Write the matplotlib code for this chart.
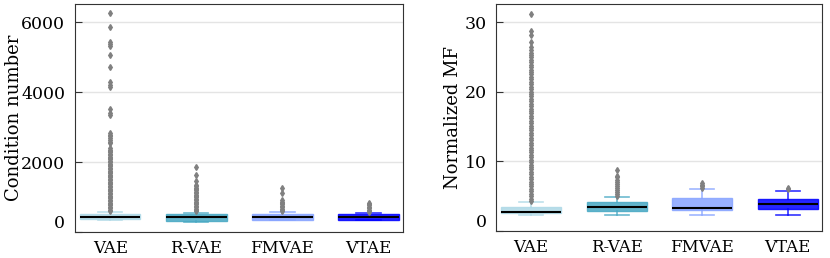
import matplotlib
matplotlib.use('Agg')
import matplotlib.pyplot as plt
import matplotlib.transforms as mtransforms

plt.rcParams['font.family'] = 'DejaVu Serif'

models = ['VAE', 'R-VAE', 'FMVAE', 'VTAE']
colors = ['#add8e6', '#48a8c3', '#87a4ff', '#0000ff']

# condition number box stats
cond_whislo = [340, 300, 330, 330]
cond_q1 = [375, 320, 350, 350]
cond_med = [432, 421, 421, 421]
cond_q3 = [517, 517, 517, 525]
cond_whishi = [563, 546, 560, 540]
cond_fliers_vae = [600, 640, 680, 720, 760, 800, 840, 880, 920, 960, 1000, 1040,
                   1080, 1120, 1160, 1200, 1240, 1280, 1320, 1360, 1400, 1440, 1480,
                   1520, 1560, 1600, 1640, 1680, 1720, 1760, 1800, 1840, 1880, 1920,
                   1960, 2000, 2040, 2080, 2120, 2160, 2200, 2240, 2280, 2320, 2360,
                   2400, 2540, 2580, 2640, 2690, 2740, 2790, 2820, 3340, 3400, 3530,
                   4150, 4210, 4290, 4730, 5070, 5310, 5370, 5430, 5860, 6260]
cond_fliers_rvae = [590, 630, 670, 710, 750, 790, 830, 870, 910, 950, 990, 1030,
                    1070, 1110, 1150, 1190, 1230, 1270, 1310, 1350, 1470, 1630, 1850]
cond_fliers_fmvae = [590, 630, 670, 710, 750, 790, 830, 870, 910, 1130, 1250]
cond_fliers_vtae = [560, 600, 640, 680, 720, 760, 800, 830]

# normalized MF box stats
mf_whislo = [2.3, 2.24, 2.25, 2.34]
mf_q1 = [2.6, 2.81, 2.95, 3.1]
mf_med = [2.8, 3.52, 3.34, 3.81]
mf_q3 = [3.5, 4.23, 4.72, 4.62]
mf_whishi = [4.1, 4.94, 6.0, 5.8]
mf_fliers_vae = [4.3, 4.65, 5.0, 5.35, 5.7, 6.05, 6.4, 6.75, 7.1, 7.45, 7.8, 8.15,
                 8.5, 8.85, 9.2, 9.55, 9.9, 10.25, 10.6, 10.95, 11.3, 11.65, 12.0,
                 12.35, 12.7, 13.05, 13.4, 13.75, 14.1, 14.45, 14.8, 15.15, 15.5,
                 15.85, 16.2, 16.55, 16.9, 17.25, 17.6, 17.95, 18.3, 18.65, 19.0,
                 19.35, 19.7, 20.05, 20.4, 20.75, 21.1, 21.45, 21.8, 22.15, 22.5,
                 22.85, 23.2, 23.55, 23.9, 24.25, 24.6, 24.95, 25.3, 25.65, 26.0,
                 26.5, 27.2, 28.2, 28.7, 31.2]
mf_fliers_rvae = [5.0, 5.3, 5.6, 5.9, 6.2, 6.5, 6.8, 7.1, 7.4, 7.7, 7.9, 8.7]
mf_fliers_fmvae = [6.15, 6.4, 6.65, 6.9]
mf_fliers_vtae = [6.0, 6.2]

cond_fliers = [cond_fliers_vae, cond_fliers_rvae, cond_fliers_fmvae, cond_fliers_vtae]
mf_fliers = [mf_fliers_vae, mf_fliers_rvae, mf_fliers_fmvae, mf_fliers_vtae]


def make_stats(lo, q1, med, q3, hi, fl):
    return [dict(whislo=lo[i], q1=q1[i], med=med[i], q3=q3[i], whishi=hi[i], fliers=fl[i])
            for i in range(len(lo))]


def draw(ax, stats, ylabel, ylim, yticks, label_x, ypad):
    bp = ax.bxp(stats, positions=range(4), widths=0.7, capwidths=0.28,
                patch_artist=True, showfliers=True,
                flierprops=dict(marker='d', markersize=3, markerfacecolor='#808080',
                                markeredgecolor='#808080', linestyle='none'),
                medianprops=dict(color='black', linewidth=1.5))
    for i, c in enumerate(colors):
        bp['boxes'][i].set_facecolor(c)
        bp['boxes'][i].set_edgecolor(c)
        bp['boxes'][i].set_alpha(0.85)
        for ln in bp['whiskers'][2*i:2*i+2] + bp['caps'][2*i:2*i+2]:
            ln.set_color(c)
            ln.set_alpha(0.8)
            ln.set_linewidth(1.2)
    ax.set_xticks(range(4), models)
    ax.set_xlim(-0.41, 3.4)
    ax.set_ylim(*ylim)
    ax.set_yticks(yticks)
    ax.set_ylabel(ylabel, fontsize=13)
    ax.yaxis.set_label_coords(label_x, 0.5)
    ax.tick_params(axis='x', length=0, pad=6, labelsize=12)
    ax.tick_params(axis='y', direction='in', length=5, pad=ypad, labelsize=12.5,
                   color='#333333')
    ax.yaxis.grid(True, color='#e4e4e4', linewidth=1)
    ax.set_axisbelow(True)
    for s in ax.spines.values():
        s.set_color('#333333')
    # the 0 label sits a bit above the bottom spine in the original
    lab = ax.yaxis.get_major_ticks()[0].label1
    lab.set_transform(lab.get_transform() +
                      mtransforms.ScaledTranslation(0, 10/100, ax.figure.dpi_scale_trans))


fig = plt.figure(figsize=(8.3, 2.58), dpi=100)
ax1 = fig.add_axes([0.0904, 0.1008, 0.3951, 0.8856])
ax2 = fig.add_axes([0.5976, 0.1047, 0.3928, 0.8817])

draw(ax1, make_stats(cond_whislo, cond_q1, cond_med, cond_q3, cond_whishi, cond_fliers),
     'Condition number', (0, 6540), [0, 2000, 4000, 6000], -0.158, 7)
draw(ax2, make_stats(mf_whislo, mf_q1, mf_med, mf_q3, mf_whishi, mf_fliers),
     'Normalized MF', (0, 32.7), [0, 10, 20, 30], -0.105, 6.5)

fig.savefig('out.png', dpi=100)
